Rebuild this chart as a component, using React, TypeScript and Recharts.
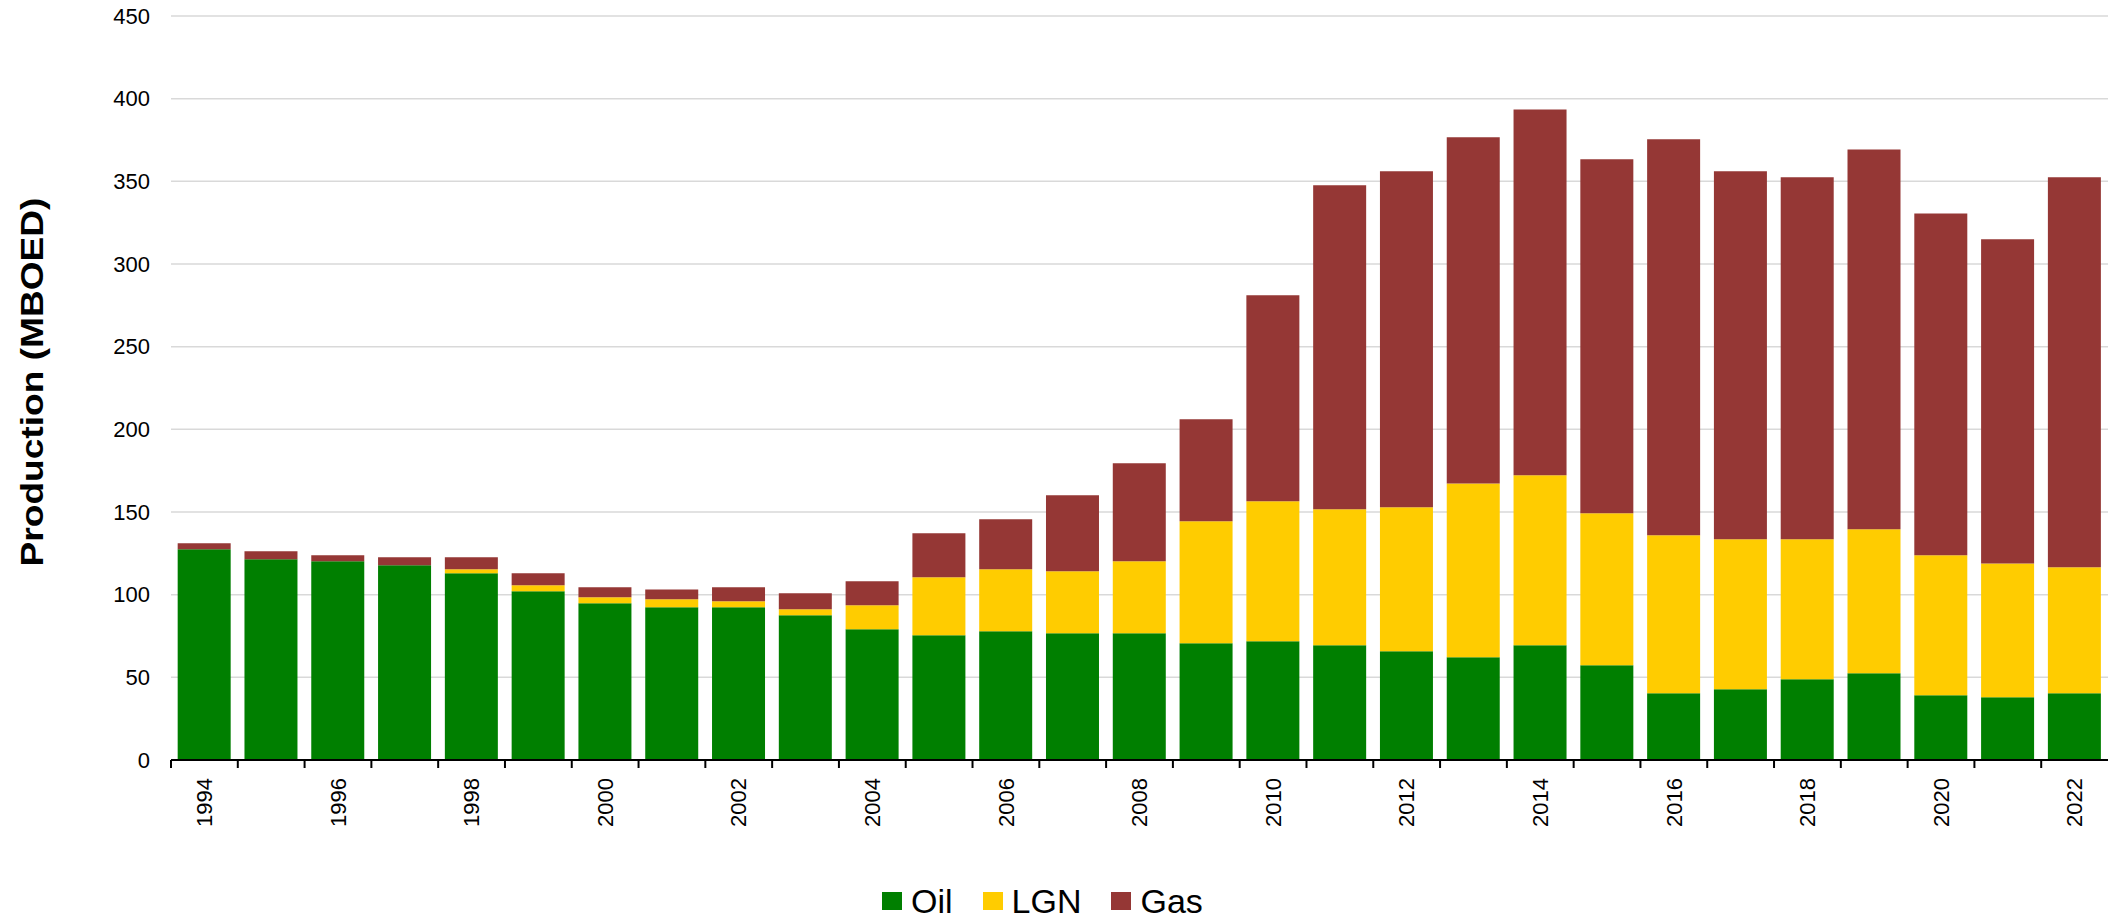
import { BarChart, Bar, XAxis, YAxis, CartesianGrid, Legend } from 'recharts';

const years = [
  1994, 1995, 1996, 1997, 1998, 1999, 2000, 2001, 2002, 2003, 2004, 2005, 2006, 2007, 2008,
  2009, 2010, 2011, 2012, 2013, 2014, 2015, 2016, 2017, 2018, 2019, 2020, 2021, 2022
];

const oil = [
  127.4, 121.4, 120.2, 117.8, 113, 102, 94.8, 92.4, 92.4, 87.6, 79.1, 75.5, 77.9, 76.7, 76.7,
  70.6, 71.8, 69.4, 65.8, 62.1, 69.4, 57.3, 40.4, 42.8, 48.8, 52.5, 39.2, 38, 40.4
];

const lgn = [
  0, 0, 0, 0, 2.4, 3.7, 3.6, 4.8, 3.6, 3.6, 14.5, 35, 37.5, 37.5, 43.5,
  73.8, 84.7, 82.3, 87.1, 105.2, 102.8, 91.9, 95.5, 90.7, 84.7, 87.1, 84.6, 80.9, 76.2
];

const gas = [
  3.7, 4.8, 3.6, 4.8, 7.2, 7.3, 6.1, 6, 8.5, 9.6, 14.5, 26.6, 30.2, 45.9, 59.3,
  61.7, 124.6, 195.9, 203.2, 209.3, 221.3, 214.1, 239.5, 222.6, 219, 229.7, 206.8, 196, 235.9
];

const yTicks = [0, 50, 100, 150, 200, 250, 300, 350, 400, 450];

const series = [
  { key: 'oil', name: 'Oil', color: '#007F00' },
  { key: 'lgn', name: 'LGN', color: '#FFCC00' },
  { key: 'gas', name: 'Gas', color: '#953735' }
];

const data = years.map((year, i) => ({
  year,
  oil: oil[i],
  lgn: lgn[i],
  gas: gas[i]
}));

const W = 2108;
const H = 920;
const AXIS_W = 171;
const BAND = (W - AXIS_W) / years.length;
const FONT = "'Liberation Sans', Arial, sans-serif";

// tick marks sit on the band edges, labels only every other year
function YearTick(props: any) {
  const { x, y, payload, index } = props;
  const left = x - BAND / 2;
  return (
    <g>
      <line x1={left} y1={y} x2={left} y2={y + 8} stroke="#000" strokeWidth={2} />
      {index % 2 === 0 && (
        <text
          transform={`translate(${x},${y + 18}) rotate(-90)`}
          textAnchor="end"
          dy="0.35em"
          fontSize={22}
          fontFamily={FONT}
          fill="#000"
        >
          {payload.value}
        </text>
      )}
    </g>
  );
}

function YTitle() {
  return (
    <text
      transform="translate(43,382) rotate(-90) scale(1.16,1)"
      textAnchor="middle"
      fontSize={32}
      fontWeight="bold"
      fontFamily={FONT}
      fill="#000"
    >
      Production (MBOED)
    </text>
  );
}

function LegendBox() {
  return (
    <div style={{ display: 'flex', alignItems: 'center', fontFamily: FONT, fontSize: 34, lineHeight: '40px', color: '#000' }}>
      {series.map((s, i) => (
        <div key={s.key} style={{ display: 'flex', alignItems: 'center', marginLeft: i === 0 ? 0 : 30 }}>
          <span style={{ display: 'inline-block', width: 20, height: 18, background: s.color, marginRight: 9 }} />
          <span>{s.name}</span>
        </div>
      ))}
    </div>
  );
}

export default function App() {
  return (
    <div style={{ position: 'absolute', left: 0, top: 0, width: W, height: H, background: '#fff' }}>
      <BarChart
        width={W}
        height={H}
        data={data}
        margin={{ top: 16, right: 0, left: 0, bottom: 60 }}
        barCategoryGap="10%"
      >
        <CartesianGrid vertical={false} stroke="#D9D9D9" strokeWidth={1.5} />
        <XAxis
          dataKey="year"
          interval={0}
          height={100}
          tickLine={false}
          tickSize={0}
          tickMargin={0}
          axisLine={{ stroke: '#000', strokeWidth: 2 }}
          tick={<YearTick />}
        />
        <YAxis
          width={AXIS_W}
          domain={[0, 450]}
          ticks={yTicks}
          interval={0}
          axisLine={false}
          tickLine={false}
          tickSize={0}
          tickMargin={21}
          tick={{ fontSize: 22, fontFamily: FONT, fill: '#000' }}
          label={{ content: () => <YTitle /> }}
        />
        <Legend
          layout="horizontal"
          verticalAlign="middle"
          align="center"
          content={() => <LegendBox />}
          wrapperStyle={{ left: 882, top: 881, width: 'auto' }}
        />
        {series.map((s) => (
          <Bar
            key={s.key}
            dataKey={s.key}
            name={s.name}
            stackId="p"
            fill={s.color}
            isAnimationActive={false}
          />
        ))}
      </BarChart>
    </div>
  );
}
